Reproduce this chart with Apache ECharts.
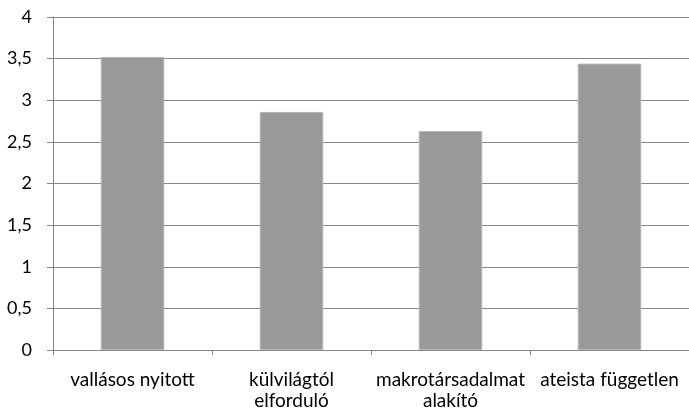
<!DOCTYPE html>
<html>
<head>
<meta charset="utf-8">
<script src="https://cdn.jsdelivr.net/npm/echarts@6/dist/echarts.min.js"></script>
<style>
  html, body { margin: 0; padding: 0; background: #fff; }
  #chart { width: 689px; height: 411px; }
</style>
</head>
<body>
<div id="chart"></div>
<script>
const categories = ["vallásos nyitott", "külvilágtól\nelforduló", "makrotársadalmat\nalakító", "ateista független"];
const values = [3.52, 2.86, 2.63, 3.44];

const chart = echarts.init(document.getElementById("chart"));

chart.setOption({
  animation: false,
  grid: { left: 53, right: 0, top: 17, bottom: 59 },
  xAxis: {
    type: "category",
    data: categories,
    axisLine: { lineStyle: { color: "#868686", width: 1 } },
    axisTick: { show: true, length: 5, lineStyle: { color: "#868686" } },
    axisLabel: {
      color: "#000",
      fontFamily: "Lato",
      fontSize: 19,
      margin: 19,
      lineHeight: 21,
      interval: 0,
    },
  },
  yAxis: {
    type: "value",
    min: 0,
    max: 4,
    interval: 0.5,
    axisLine: { show: true, lineStyle: { color: "#868686", width: 1 } },
    axisTick: { show: true, length: 6, lineStyle: { color: "#868686" } },
    splitLine: { lineStyle: { color: "#868686", width: 1 } },
    axisLabel: {
      color: "#000",
      fontFamily: "Lato",
      fontSize: 18,
      margin: 21,
      formatter: (v) => String(v).replace(".", ","),
    },
  },
  series: [
    {
      type: "bar",
      data: values,
      barWidth: "40%",
      itemStyle: { color: "#999999", borderColor: "#b8b8b8", borderWidth: 1 },
    },
  ],
});
</script>
</body>
</html>
